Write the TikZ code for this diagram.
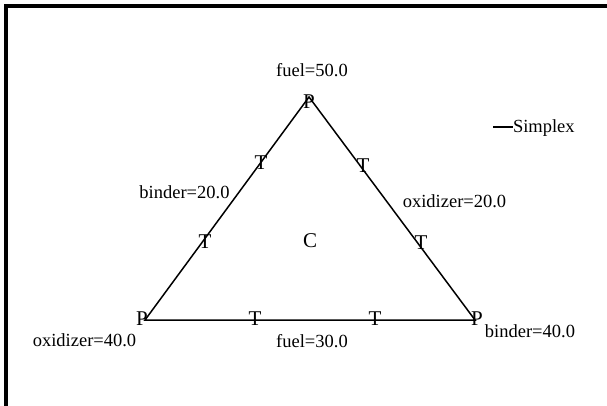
\documentclass[tikz,border=0pt]{standalone}
\usepackage{fontspec}
\setmainfont{Liberation Serif}
\begin{document}
\begin{tikzpicture}[x=1pt,y=-1pt,
  txt/.style={font=\fontsize{18.5}{22}\selectfont, inner sep=0pt, outer sep=0pt},
  glyph/.style={txt, font=\fontsize{21}{25}\selectfont, anchor=center},
  lbl/.style={txt, anchor=base},
  sideline/.style={line width=1.5pt, black},
  frameline/.style={line width=4pt, black}]
\useasboundingbox (0,0) rectangle (607,406);
% frame
\draw[frameline] (6,406) -- (6,6) -- (607,6);
% vertices
\coordinate (vt) at (309,97);
\coordinate (vl) at (145,320);
\coordinate (vr) at (475,320);
\draw[sideline] (vt) -- (vl) -- (vr) -- cycle;
% vertex marks
\node[glyph] (pt) at (309,102) {P};
\node[glyph] (pl) at (142,319) {P};
\node[glyph] (pr) at (477,319) {P};
% edge marks
\node[glyph] (t1) at (261,163) {T};
\node[glyph] (t2) at (205,242) {T};
\node[glyph] (t3) at (363,166) {T};
\node[glyph] (t4) at (421,243) {T};
\node[glyph] (t5) at (255,318.5) {T};
\node[glyph] (t6) at (375,318.5) {T};
\node[glyph] (c) at (310,241) {C};
% labels
\node[lbl] (l1) at (312,76.5) {fuel=50.0};
\node[lbl] (l2) at (184.5,198) {binder=20.0};
\node[lbl] (l3) at (454.5,207) {oxidizer=20.0};
\node[lbl] (l4) at (84.5,346) {oxidizer=40.0};
\node[lbl] (l5) at (312,347) {fuel=30.0};
\node[lbl] (l6) at (530,337) {binder=40.0};
% legend
\node[txt, anchor=base west] (leg) at (513,133) {Simplex};
\coordinate (legs) at (493,127);
\draw[sideline] (legs) -- (legs -| leg.west);
\end{tikzpicture}
\end{document}
